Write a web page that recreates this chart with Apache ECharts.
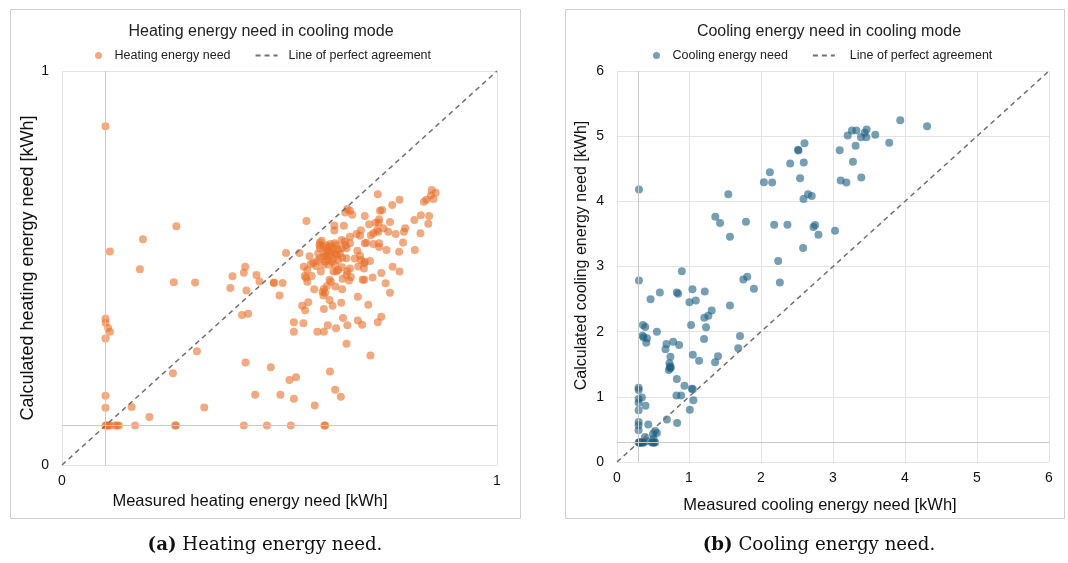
<!DOCTYPE html>
<html>
<head>
<meta charset="utf-8">
<script src="https://cdn.jsdelivr.net/npm/echarts@6/dist/echarts.min.js"></script>
<style>
  html, body { margin: 0; padding: 0; background: #fff; }
  #main { width: 1068px; height: 563px; }
</style>
</head>
<body>
<div id="main"></div>
<script>
// measured vs calculated heating energy need [kWh]
const heatingPoints = [
  [0.1, 0.86], [0.11, 0.542], [0.1, 0.371], [0.1, 0.361], [0.106, 0.348], [0.11, 0.338], [0.1, 0.321],
  [0.1, 0.176], [0.1, 0.145],
  [0.1, 0.1], [0.103, 0.1], [0.106, 0.1], [0.11, 0.1], [0.122, 0.1], [0.127, 0.1], [0.131, 0.1], [0.168, 0.1],
  [0.26, 0.1], [0.262, 0.1], [0.418, 0.1], [0.471, 0.1], [0.526, 0.1], [0.603, 0.1], [0.605, 0.1],
  [0.263, 0.606], [0.186, 0.573], [0.179, 0.497], [0.257, 0.464], [0.306, 0.463], [0.392, 0.479], [0.418, 0.488],
  [0.421, 0.503], [0.447, 0.482], [0.454, 0.466], [0.487, 0.463], [0.387, 0.449], [0.424, 0.443], [0.5, 0.43],
  [0.414, 0.381], [0.428, 0.384], [0.31, 0.289], [0.255, 0.233], [0.422, 0.26], [0.48, 0.248], [0.444, 0.178],
  [0.502, 0.178], [0.16, 0.147], [0.327, 0.146], [0.201, 0.122],
  [0.726, 0.687], [0.776, 0.673], [0.759, 0.66], [0.736, 0.647], [0.731, 0.645], [0.696, 0.632], [0.656, 0.65],
  [0.662, 0.645], [0.667, 0.635], [0.651, 0.641], [0.562, 0.619], [0.626, 0.608], [0.626, 0.595], [0.648, 0.607],
  [0.706, 0.611], [0.729, 0.624], [0.728, 0.615], [0.721, 0.615], [0.739, 0.601], [0.724, 0.596], [0.727, 0.592],
  [0.754, 0.617], [0.75, 0.592], [0.767, 0.586], [0.789, 0.601], [0.786, 0.592], [0.81, 0.622], [0.825, 0.634],
  [0.844, 0.632], [0.842, 0.612], [0.824, 0.588], [0.832, 0.668], [0.838, 0.673], [0.848, 0.684], [0.854, 0.675],
  [0.859, 0.691], [0.85, 0.698], [0.784, 0.565], [0.811, 0.546], [0.775, 0.541], [0.677, 0.586], [0.685, 0.582],
  [0.687, 0.596], [0.71, 0.583], [0.716, 0.588], [0.7, 0.564], [0.696, 0.563], [0.716, 0.561], [0.729, 0.563],
  [0.729, 0.553], [0.746, 0.546], [0.662, 0.563], [0.652, 0.558], [0.654, 0.55], [0.679, 0.544], [0.685, 0.531],
  [0.654, 0.525], [0.673, 0.524], [0.687, 0.52], [0.708, 0.518], [0.695, 0.512], [0.696, 0.516], [0.694, 0.499],
  [0.681, 0.504], [0.662, 0.499], [0.656, 0.492], [0.654, 0.482], [0.664, 0.477], [0.66, 0.468], [0.645, 0.473],
  [0.644, 0.502], [0.644, 0.526], [0.734, 0.487], [0.714, 0.476], [0.76, 0.503], [0.776, 0.491], [0.691, 0.47],
  [0.695, 0.47], [0.744, 0.461], [0.754, 0.437], [0.68, 0.427], [0.704, 0.407], [0.734, 0.376], [0.726, 0.362],
  [0.69, 0.356], [0.68, 0.367], [0.656, 0.355], [0.646, 0.373], [0.63, 0.347], [0.611, 0.355], [0.587, 0.338],
  [0.602, 0.338], [0.654, 0.308], [0.709, 0.278], [0.555, 0.36], [0.533, 0.362], [0.533, 0.338], [0.552, 0.404],
  [0.559, 0.393], [0.566, 0.413], [0.602, 0.396], [0.622, 0.404], [0.615, 0.419], [0.642, 0.412], [0.601, 0.43],
  [0.599, 0.44], [0.605, 0.437], [0.602, 0.447], [0.609, 0.454], [0.615, 0.47], [0.618, 0.465], [0.628, 0.453],
  [0.644, 0.446], [0.58, 0.446], [0.487, 0.462], [0.507, 0.462], [0.515, 0.538], [0.546, 0.538], [0.556, 0.503],
  [0.564, 0.495], [0.558, 0.48], [0.561, 0.475], [0.564, 0.465], [0.574, 0.48], [0.572, 0.51], [0.569, 0.53],
  [0.578, 0.513], [0.584, 0.505], [0.595, 0.491], [0.593, 0.565], [0.592, 0.558],
  [0.523, 0.216], [0.538, 0.223], [0.533, 0.168], [0.581, 0.151], [0.616, 0.237], [0.628, 0.191], [0.641, 0.173],
  // dense cluster
  [0.597, 0.569], [0.601, 0.554], [0.608, 0.558], [0.616, 0.554], [0.624, 0.55], [0.631, 0.558], [0.635, 0.546],
  [0.628, 0.537], [0.62, 0.541], [0.612, 0.541], [0.605, 0.537], [0.601, 0.529], [0.608, 0.529], [0.616, 0.533],
  [0.624, 0.525], [0.631, 0.533], [0.612, 0.52], [0.62, 0.516], [0.605, 0.516], [0.593, 0.524], [0.589, 0.537],
  [0.639, 0.537], [0.643, 0.55], [0.608, 0.548], [0.617, 0.561], [0.627, 0.563], [0.614, 0.508], [0.601, 0.508],
  [0.586, 0.518], [0.635, 0.52], [0.628, 0.508], [0.635, 0.495], [0.631, 0.491], [0.624, 0.491], [0.643, 0.571],
  [0.65, 0.567], [0.662, 0.579], [0.593, 0.55]
];

// measured vs calculated cooling energy need [kWh]
const coolingPoints = [
  [0.305, 4.18], [1.546, 4.11], [1.366, 3.765], [1.431, 3.667], [1.791, 3.688], [1.569, 3.457], [2.04, 4.292],
  [2.155, 4.288], [2.123, 4.446], [2.405, 4.58], [2.515, 4.791], [2.52, 4.78], [2.604, 4.892], [2.594, 4.595],
  [2.543, 4.354], [2.654, 4.108], [2.705, 4.083], [2.59, 4.037], [2.183, 3.641], [2.368, 3.641], [2.751, 3.637],
  [2.728, 3.606], [2.798, 3.488], [2.585, 3.283], [2.239, 3.083], [3.028, 3.549], [3.093, 4.785],
  [0.9, 2.929], [0.305, 2.785], [1.754, 2.8], [1.809, 2.842], [2.262, 2.754], [1.902, 2.657], [0.595, 2.6],
  [0.831, 2.6], [0.849, 2.58], [1.048, 2.652], [1.219, 2.615], [0.466, 2.498],
  [1.006, 2.452], [1.094, 2.477], [1.569, 2.4], [1.315, 2.323], [1.269, 2.246], [1.213, 2.215], [1.237, 2.068],
  [1.029, 2.103], [0.36, 2.103], [0.392, 2.072], [0.554, 2.0], [0.355, 1.938], [0.416, 1.898], [0.368, 1.914],
  [0.406, 1.831], [1.708, 1.934], [1.209, 1.888], [1.684, 1.745], [0.687, 1.811], [0.673, 1.729], [0.78, 1.846],
  [0.863, 1.795], [0.742, 1.615], [0.729, 1.514], [0.748, 1.452], [0.72, 1.411], [0.738, 1.437], [0.735, 1.47],
  [1.053, 1.646], [1.14, 1.554], [1.362, 1.529], [1.403, 1.622], [0.831, 1.272], [0.937, 1.169], [1.053, 1.118],
  [1.039, 1.123], [0.826, 1.022], [0.891, 1.022], [1.061, 0.949], [1.011, 0.8], [0.3, 1.138], [0.3, 1.103],
  [0.3, 0.965], [0.346, 0.991], [0.3, 0.908], [0.396, 0.862], [0.3, 0.795], [0.3, 0.615], [0.3, 0.565],
  [0.3, 0.488], [0.434, 0.575], [0.693, 0.652], [0.835, 0.6], [0.53, 0.477], [0.554, 0.446], [0.499, 0.426],
  [0.388, 0.385], [0.416, 0.323], [0.507, 0.36],
  [0.3, 0.3], [0.31, 0.3], [0.32, 0.3], [0.33, 0.3], [0.345, 0.3], [0.36, 0.3], [0.37, 0.3], [0.485, 0.3],
  [0.5, 0.3], [0.515, 0.3], [0.53, 0.3],
  [3.934, 5.246], [4.307, 5.154], [3.263, 5.088], [3.324, 5.088], [3.467, 5.103], [3.439, 5.052], [3.204, 5.011],
  [3.388, 4.985], [3.463, 4.985], [3.587, 5.021], [3.781, 4.898], [3.314, 4.852], [3.277, 4.606], [3.393, 4.365],
  [3.107, 4.318], [3.186, 4.288]
];

const heatRange = [0, 1];
const coolRange = [0, 6];
const heatCross = 0.1;   // grey reference lines
const coolCross = 0.3;

const heatTitle = 'Heating energy need in cooling mode';
const coolTitle = 'Cooling energy need in cooling mode';
const heatSeriesName = 'Heating energy need';
const coolSeriesName = 'Cooling energy need';
const perfectName = 'Line of perfect agreement';

const FONT = '"Liberation Sans", Arial, sans-serif';
const SERIF = '"DejaVu Serif", serif';
const orange = '#e8702a';
const blue = '#1c5f82';

const chart = echarts.init(document.getElementById('main'));

// pad shifts the centred name to the left (x) / upwards (y)
function xAxisCfg(idx, range, name, gap, pad) {
  return {
    gridIndex: idx, type: 'value', min: range[0], max: range[1], interval: 1,
    name: name, nameLocation: 'middle', nameGap: gap,
    nameTextStyle: { fontFamily: FONT, fontSize: 16.5, color: '#111', padding: [0, pad, 0, 0] },
    axisLine: { show: false }, axisTick: { show: false },
    axisLabel: { fontFamily: FONT, fontSize: 14, color: '#111', margin: 9 },
    splitLine: { lineStyle: { color: '#e4e4e4', width: 1 } }
  };
}
function yAxisCfg(idx, range, name, gap, size, pad) {
  return {
    gridIndex: idx, type: 'value', min: range[0], max: range[1], interval: 1,
    name: name, nameLocation: 'middle', nameGap: gap,
    nameTextStyle: { fontFamily: FONT, fontSize: size, color: '#111', padding: [0, 0, 0, pad] },
    axisLine: { show: false }, axisTick: { show: false },
    axisLabel: { fontFamily: FONT, fontSize: 14, color: '#111', margin: 13 },
    splitLine: { lineStyle: { color: '#e4e4e4', width: 1 } }
  };
}
function crossLine(v) {
  return {
    silent: true, symbol: 'none', label: { show: false },
    lineStyle: { color: '#c8c8c8', width: 1, type: 'solid' },
    data: [{ xAxis: v }, { yAxis: v }]
  };
}
function legendCfg(seriesName, left, pad) {
  return {
    data: [
      { name: seriesName },
      { name: perfectName, itemStyle: { opacity: 0 }, textStyle: { padding: [0, 0, 0, pad] } }
    ],
    left: left, top: 44, itemWidth: 22, itemHeight: 7, itemGap: 24,
    textStyle: { fontFamily: FONT, fontSize: 12.5, color: '#222' }
  };
}

chart.setOption({
  animation: false,
  title: [
    { text: heatTitle, left: 256, top: 19, textAlign: 'center',
      textStyle: { fontFamily: FONT, fontSize: 16, fontWeight: 'normal', color: '#222' } },
    { text: coolTitle, left: 824, top: 19, textAlign: 'center',
      textStyle: { fontFamily: FONT, fontSize: 16, fontWeight: 'normal', color: '#222' } }
  ],
  legend: [legendCfg(heatSeriesName, 90, 6), legendCfg(coolSeriesName, 648, 10)],
  grid: [
    { left: 62, right: 571, top: 71, bottom: 98 },
    { left: 617, right: 19, top: 71, bottom: 101 }
  ],
  xAxis: [
    xAxisCfg(0, heatRange, 'Measured heating energy need [kWh]', 20, 59),
    xAxisCfg(1, coolRange, 'Measured cooling energy need [kWh]', 35, 26)
  ],
  yAxis: [
    yAxisCfg(0, heatRange, 'Calculated heating energy need [kWh]', 23, 18, 0),
    yAxisCfg(1, coolRange, 'Calculated cooling energy need [kWh]', 27, 16, 22)
  ],
  graphic: [
    { type: 'rect', shape: { x: 10.5, y: 9.5, width: 510, height: 509 },
      style: { fill: 'none', stroke: '#d0d0d0', lineWidth: 1 }, silent: true },
    { type: 'rect', shape: { x: 565.5, y: 9.5, width: 499, height: 509 },
      style: { fill: 'none', stroke: '#d0d0d0', lineWidth: 1 }, silent: true },
    { type: 'text', x: 265, y: 545, silent: true,
      style: { text: '{b|(a)} Heating energy need.', align: 'center', verticalAlign: 'middle',
        font: '18.2px ' + SERIF, fill: '#111',
        rich: { b: { fontFamily: SERIF, fontSize: 18.2, fontWeight: 'bold', fill: '#111' } } } },
    { type: 'text', x: 819, y: 545, silent: true,
      style: { text: '{b|(b)} Cooling energy need.', align: 'center', verticalAlign: 'middle',
        font: '18.2px ' + SERIF, fill: '#111',
        rich: { b: { fontFamily: SERIF, fontSize: 18.2, fontWeight: 'bold', fill: '#111' } } } }
  ],
  series: [
    { name: heatSeriesName, type: 'scatter', xAxisIndex: 0, yAxisIndex: 0, data: heatingPoints,
      symbolSize: 8, itemStyle: { color: orange, opacity: 0.6 }, markLine: crossLine(heatCross), z: 3 },
    { name: perfectName, type: 'line', xAxisIndex: 0, yAxisIndex: 0,
      data: [[heatRange[0], heatRange[0]], [heatRange[1], heatRange[1]]],
      symbol: 'none', lineStyle: { color: '#707070', width: 1.5, type: [5, 4] },
      itemStyle: { color: '#707070' }, z: 4 },
    { name: coolSeriesName, type: 'scatter', xAxisIndex: 1, yAxisIndex: 1, data: coolingPoints,
      symbolSize: 8, itemStyle: { color: blue, opacity: 0.6 }, markLine: crossLine(coolCross), z: 3 },
    { name: perfectName, type: 'line', xAxisIndex: 1, yAxisIndex: 1,
      data: [[coolRange[0], coolRange[0]], [coolRange[1], coolRange[1]]],
      symbol: 'none', lineStyle: { color: '#707070', width: 1.5, type: [5, 4] },
      itemStyle: { color: '#707070' }, z: 4 }
  ]
});
</script>
</body>
</html>
